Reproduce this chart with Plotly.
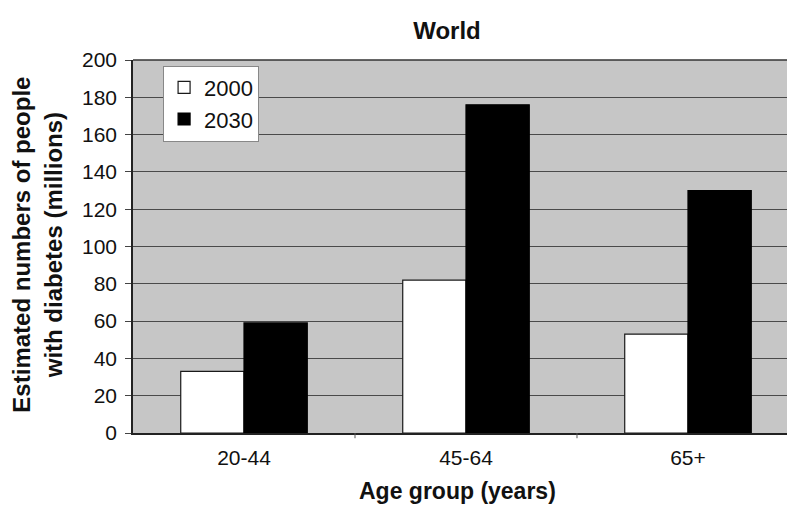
import plotly.graph_objects as go

age_groups = ["20-44", "45-64", "65+"]
people_2000 = [33, 82, 53]
people_2030 = [59, 176, 130]
y_ticks = [0, 20, 40, 60, 80, 100, 120, 140, 160, 180, 200]

font_family = "Liberation Sans, Arial, sans-serif"

fig = go.Figure()
fig.add_trace(go.Bar(
    name="2000", x=age_groups, y=people_2000,
    marker=dict(color="white", line=dict(color="#1a1a1a", width=1.2)),
))
fig.add_trace(go.Bar(
    name="2030", x=age_groups, y=people_2030,
    marker=dict(color="black", line=dict(color="black", width=1.2)),
))

fig.update_layout(
    width=787, height=506,
    margin=dict(l=133, r=0, t=60, b=73),
    paper_bgcolor="white",
    plot_bgcolor="#c6c6c6",
    barmode="group",
    bargap=0.43,
    bargroupgap=0,
    font=dict(family=font_family, color="#111", size=21),
    title=dict(text="<b>World</b>", x=0.568, xanchor="center",
               y=0.94, yanchor="middle", font=dict(size=24, color="#111")),
    legend=dict(
        x=0.046, y=0.985, xanchor="left", yanchor="top",
        bgcolor="white", bordercolor="#888", borderwidth=1,
        font=dict(size=22, color="#111"),
        itemwidth=30, tracegroupgap=0,
    ),
    showlegend=True,
)

fig.update_xaxes(
    type="category",
    range=[-0.5, 2.446],
    showline=True, linecolor="#222", linewidth=1.5,
    showgrid=False,
    ticks="", tickfont=dict(size=21),
    ticklabelstandoff=5,
)

fig.update_yaxes(
    range=[0, 200],
    tickvals=y_ticks,
    showline=True, linecolor="#222", linewidth=1.5,
    showgrid=True, gridcolor="#4a4a4a", gridwidth=1,
    ticks="outside", ticklen=6, tickcolor="#444",
    tickfont=dict(size=21),
    ticklabelstandoff=4,
    zeroline=False,
)

# Axis titles
fig.add_annotation(
    text="<b>Estimated numbers of people<br>with diabetes (millions)</b>",
    xref="paper", yref="paper", x=0, y=0.505, xanchor="center", yanchor="middle",
    xshift=-96, textangle=-90, showarrow=False,
    font=dict(size=24, color="#111"),
)
fig.add_annotation(
    text="<b>Age group (years)</b>",
    xref="paper", yref="paper", x=0.496, y=0, xanchor="center", yanchor="bottom",
    yshift=-73, showarrow=False,
    font=dict(size=23, color="#111"),
)

# Category separator ticks below the x axis
for boundary in [0.5, 1.5]:
    fig.add_shape(type="line", xref="x", yref="paper",
                  x0=boundary, x1=boundary, y0=0, y1=-0.014,
                  line=dict(color="#555", width=1))

# Top border of the plotting area
fig.add_shape(type="line", xref="paper", yref="paper",
              x0=0, x1=1, y0=1, y1=1, line=dict(color="#333", width=1.5))

fig.write_html("out.html")
